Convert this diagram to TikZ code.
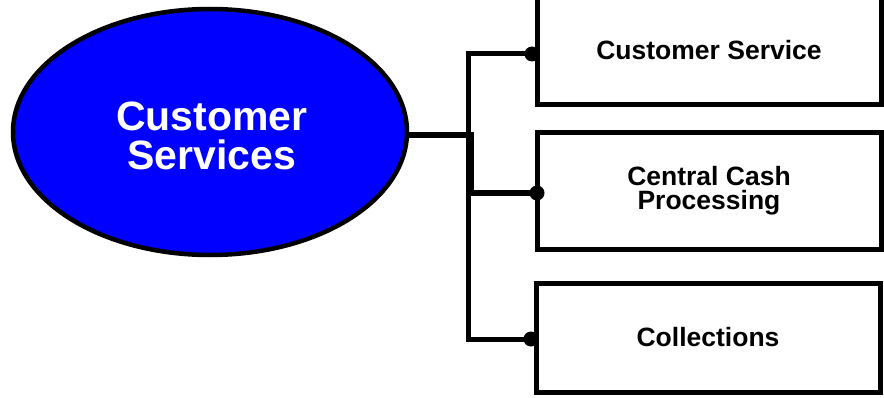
\documentclass[tikz,border=0pt]{standalone}
\usepackage{fontspec}
\setmainfont{Liberation Sans}
\usetikzlibrary{shapes.geometric}
\definecolor{cblue}{RGB}{0,0,255}
\begin{document}
\begin{tikzpicture}[x=1pt,y=1pt,
  hub/.style={ellipse, draw=black, line width=4.5pt, fill=cblue,
    minimum width=394pt, minimum height=246pt, inner sep=0pt},
  hubtext/.style={text=white, align=center, inner sep=0pt,
    font=\fontsize{41}{39}\selectfont\bfseries},
  unitbox/.style={rectangle, draw=black, line width=5pt, fill=white,
    minimum width=344pt, inner sep=0pt, align=center,
    font=\fontsize{26.5}{24}\selectfont\bfseries},
  link/.style={draw=black, line width=5pt},
  dot/.style={fill=black}]
\useasboundingbox (0,0) rectangle (884,397);
% central ellipse
\node[hub] (cs) at (210,265) {};
\node[hubtext] (cst) at ([xshift=2pt,yshift=-4pt]cs.center) {Customer\\Services};
% boxes
\node[unitbox, minimum height=110pt] (b1) at (709,347) {Customer Service};
\node[unitbox, minimum height=116pt] (b2) at (709,206) {Central Cash\\Processing};
\node[unitbox, minimum height=109pt] (b3) at (708,59.5) {Collections};
% connector points
\coordinate (J) at (469,262);
\coordinate (t1) at (468.5,343);
\coordinate (t2) at (468.5,204);
\coordinate (t3) at (468.5,58);
\coordinate (d1) at (532,343);
\coordinate (d2) at (537,204);
\coordinate (d3) at (531,58);
% connectors
\draw[link, line width=5.5pt] (J -| cs.east) -- (J);
\draw[link, line cap=rect] (t1) -- (t3);
\draw[link] (471.5,265) -- (471.5,204);
\draw[link] (t1) -- (d1);
\draw[link] (t2) -- (d2);
\draw[link] (t3) -- (d3);
\fill[dot] (d1) circle (7.5pt);
\fill[dot] (d2) circle (7.5pt);
\fill[dot] (d3) circle (7.5pt);
\end{tikzpicture}
\end{document}
